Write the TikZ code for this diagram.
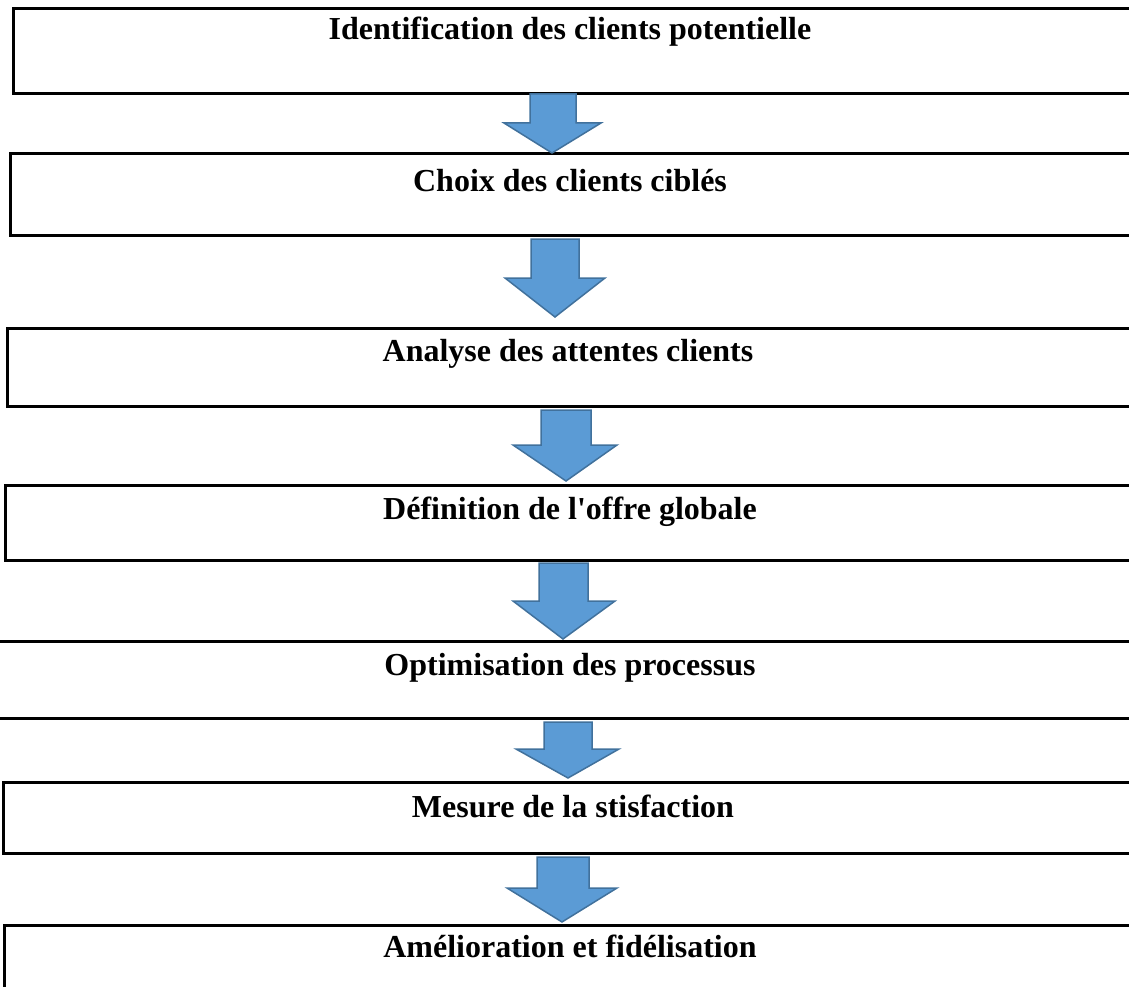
\documentclass[tikz,border=0pt]{standalone}
\usepackage{fontspec}
\setmainfont{Liberation Serif}
\usepackage{tikz}
\usetikzlibrary{calc}
\definecolor{arrowfill}{HTML}{5B9BD5}
\definecolor{arrowdraw}{HTML}{41719C}
\newcommand{\stepfont}{\fontsize{32}{38}\selectfont\bfseries}
% shaft left, shaft right, shaft top, wing, head left, head right, tip x, tip y
\newcommand{\blockarrow}[8]{
	\filldraw[fill=arrowfill, draw=arrowdraw, line width=1.5pt, line join=miter]
		(#1,#3) -- (#2,#3) -- (#2,#4) -- (#6,#4) -- (#7,#8) -- (#5,#4) -- (#1,#4) -- cycle;
}
\newcommand{\stepbox}[3]{
	\draw[line width=3pt] (1160,#2) -- (#1,#2) -- (#1,#3) -- (1160,#3);
}

\begin{document}
\begin{tikzpicture}[x=1pt,y=-1pt]
	\useasboundingbox (0,0) rectangle (1129,987);
	\clip (0,0) rectangle (1129,987);

	\stepbox{13}{9}{94}
	\stepbox{10}{154}{235}
	\stepbox{7}{328}{406}
	\stepbox{5}{485}{560}
	\stepbox{-8}{641}{718}
	\stepbox{3}{782}{853}
	\stepbox{4}{925}{1010}

	\node[anchor=base] (identif) at (570,40) {\stepfont Identification des clients potentielle};
	\node[anchor=base] (choix) at (570,192) {\stepfont Choix des clients ciblés};
	\node[anchor=base] (analyse) at (568,361) {\stepfont Analyse des attentes clients};
	\node[anchor=base] (offre) at (570,519) {\stepfont Définition de l\textquotesingle offre globale};
	\node[anchor=base] (optim) at (570,675) {\stepfont Optimisation des processus};
	\node[anchor=base] (mesure) at (573,817) {\stepfont Mesure de la stisfaction};
	\node[anchor=base] (amelio) at (570,957) {\stepfont Amélioration et fidélisation};

	\blockarrow{530}{576}{94}{123}{504}{601}{552}{153}
	\blockarrow{531}{579}{239}{278}{505}{605}{555}{317}
	\blockarrow{541}{591}{410}{445}{513}{617}{566}{481}
	\blockarrow{539}{588}{563}{601}{513}{615}{563}{639}
	\blockarrow{544}{592}{722}{749}{516}{619}{568}{778}
	\blockarrow{537}{589}{857}{888}{507}{617}{562}{922}
\end{tikzpicture}
\end{document}
